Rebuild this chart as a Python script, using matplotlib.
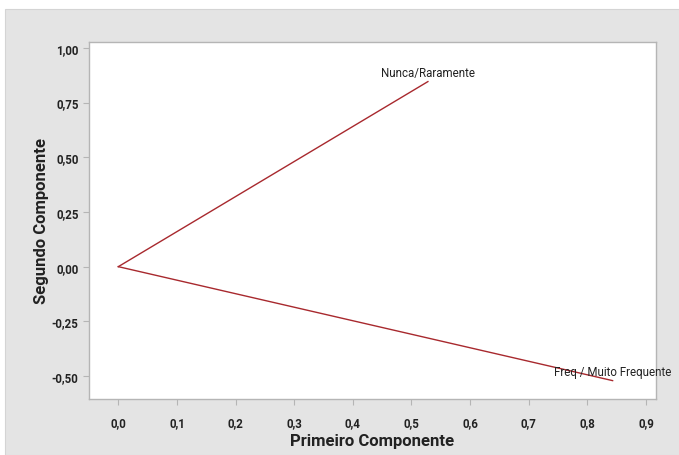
import numpy as np
import matplotlib.pyplot as plt
from matplotlib.patches import Rectangle

plt.rcParams['font.family'] = ['Roboto', 'DejaVu Sans']

# loadings of the two response categories on the first two components
categorias = ['Nunca/Raramente', 'Freq / Muito Frequente']
comp1 = [0.528, 0.843]
comp2 = [0.846, -0.521]

xticks = np.round(np.arange(0, 0.91, 0.1), 1)
yticks = [-0.50, -0.25, 0.00, 0.25, 0.50, 0.75, 1.00]

fig = plt.figure(figsize=(6.79, 4.56), dpi=100)
fig.patch.set_facecolor('white')
fig.patches.append(Rectangle((5 / 679, 0), 1, 1 - 10 / 456, transform=fig.transFigure,
                             facecolor='#e4e4e4', edgecolor='#d4d4d4', lw=0.8, zorder=-1))

ax = fig.add_axes([89 / 679, 56 / 456, 567 / 679, 357 / 456])
ax.set_facecolor('white')

for nome, x, y in zip(categorias, comp1, comp2):
    ax.plot([0, x], [0, y], color='#a8292e', lw=1.0)
    ax.annotate(nome, (x, y), xytext=(0, 2), textcoords='offset points',
                ha='center', va='bottom', fontsize=8.3, color='#222222',
                annotation_clip=False)

ax.set_xlim(-0.05, 0.917)
ax.set_ylim(-0.605, 1.027)
ax.set_xticks(xticks)
ax.set_xticklabels([f'{v:.1f}'.replace('.', ',') for v in xticks])
ax.set_yticks(yticks)
ax.set_yticklabels([f'{v:.2f}'.replace('.', ',') for v in yticks])

for s in ax.spines.values():
    s.set_color('#b5b5b5')
    s.set_linewidth(1.0)
ax.tick_params(colors='#b5b5b5', length=4, width=0.8, labelcolor='#222222', labelsize=8.3)
for lab in ax.get_xticklabels() + ax.get_yticklabels():
    lab.set_fontweight('bold')
ax.tick_params(axis='x', pad=8)

ax.set_xlabel('Primeiro Componente', fontsize=12, fontweight='bold', color='#222222', labelpad=3)
ax.set_ylabel('Segundo Componente', fontsize=12, fontweight='bold', color='#222222', labelpad=2)

fig.savefig('out.png', dpi=100)
